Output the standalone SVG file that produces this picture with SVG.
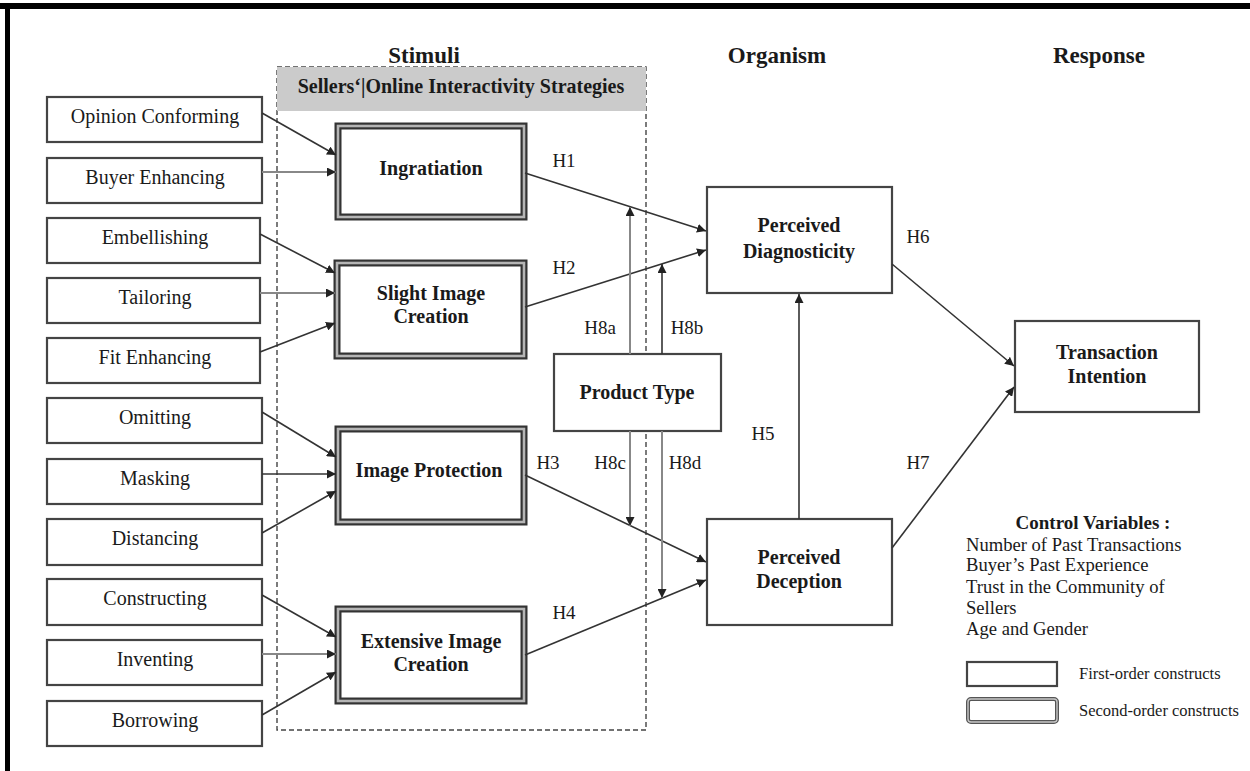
<svg xmlns="http://www.w3.org/2000/svg" width="1250" height="771" viewBox="0 0 1250 771">
<defs>
<marker id="ah" viewBox="0 0 10 10" refX="10" refY="5" markerWidth="9" markerHeight="9" markerUnits="userSpaceOnUse" orient="auto">
<path d="M0,0 L10,5 L0,10 z" fill="#222"/>
</marker>
</defs>
<style>
text{font-family:"Liberation Serif","Times New Roman",serif;fill:#1a1a1a}
.lbl{font-size:20px;text-anchor:middle}
.b{font-weight:bold}
.hd{font-size:23px;font-weight:bold;text-anchor:middle}
.h{font-size:19px;text-anchor:middle}
.cv{font-size:18.6px}
.lg{font-size:16.5px}
.box1{fill:#fff;stroke:#444;stroke-width:2.2}
.box2o{fill:#fff;stroke:#333;stroke-width:7}
.box2i{fill:none;stroke:#b5b5b5;stroke-width:2.6}
.c{fill:none;stroke:#333;stroke-width:1.6;marker-end:url(#ah)}
.cg{fill:none;stroke:#888;stroke-width:2;marker-end:url(#ah)}
</style>
<rect x="0" y="0" width="1250" height="771" fill="#fff"/>
<!-- frame -->
<rect x="0" y="3" width="1250" height="6" fill="#000"/>
<rect x="5" y="3" width="5" height="768" fill="#000"/>

<!-- headings -->
<text class="hd" x="424" y="63">Stimuli</text>
<text class="hd" x="777" y="63">Organism</text>
<text class="hd" x="1099" y="63">Response</text>

<!-- stimuli container -->
<g id="stimuli-group">
<rect x="277" y="67" width="369" height="663" fill="none" stroke="#444" stroke-width="1.4" stroke-dasharray="5,3"/>
<rect x="277" y="67" width="369" height="44" fill="#cbcbcb"/>
<text class="lbl b" x="461" y="93">Sellers‘|Online Interactivity Strategies</text>
</g>

<!-- first-order left boxes -->
<g id="opinion-conforming"><rect class="box1" x="47" y="97" width="215" height="45"/><text class="lbl" x="155" y="123">Opinion Conforming</text></g>
<g id="buyer-enhancing"><rect class="box1" x="47" y="158" width="215" height="45"/><text class="lbl" x="155" y="184">Buyer Enhancing</text></g>
<g id="embellishing"><rect class="box1" x="47" y="218" width="213" height="45"/><text class="lbl" x="155" y="244">Embellishing</text></g>
<g id="tailoring"><rect class="box1" x="47" y="278" width="213" height="45"/><text class="lbl" x="155" y="304">Tailoring</text></g>
<g id="fit-enhancing"><rect class="box1" x="47" y="338" width="213" height="45"/><text class="lbl" x="155" y="364">Fit Enhancing</text></g>
<g id="omitting"><rect class="box1" x="47" y="398" width="215" height="45"/><text class="lbl" x="155" y="424">Omitting</text></g>
<g id="masking"><rect class="box1" x="47" y="459" width="215" height="45"/><text class="lbl" x="155" y="485">Masking</text></g>
<g id="distancing"><rect class="box1" x="47" y="519" width="215" height="46"/><text class="lbl" x="155" y="545">Distancing</text></g>
<g id="constructing"><rect class="box1" x="47" y="579" width="215" height="46"/><text class="lbl" x="155" y="605">Constructing</text></g>
<g id="inventing"><rect class="box1" x="47" y="640" width="215" height="45"/><text class="lbl" x="155" y="666">Inventing</text></g>
<g id="borrowing"><rect class="box1" x="47" y="701" width="215" height="45"/><text class="lbl" x="155" y="727">Borrowing</text></g>

<!-- second-order boxes -->
<g id="ingratiation"><rect class="box2o" x="338" y="126" width="186" height="91"/><rect class="box2i" x="338" y="126" width="186" height="91"/><text class="lbl b" x="431" y="175">Ingratiation</text></g>
<g id="slight-image-creation"><rect class="box2o" x="337" y="263" width="187" height="93"/><rect class="box2i" x="337" y="263" width="187" height="93"/><text class="lbl b" x="431" y="300">Slight Image</text><text class="lbl b" x="431" y="323">Creation</text></g>
<g id="image-protection"><rect class="box2o" x="338" y="429" width="186" height="93"/><rect class="box2i" x="338" y="429" width="186" height="93"/><text class="lbl b" x="429" y="477">Image Protection</text></g>
<g id="extensive-image-creation"><rect class="box2o" x="338" y="609" width="186" height="92"/><rect class="box2i" x="338" y="609" width="186" height="92"/><text class="lbl b" x="431" y="648">Extensive Image</text><text class="lbl b" x="431" y="671">Creation</text></g>

<!-- product type -->
<g id="product-type"><rect class="box1" x="554" y="354" width="167" height="77"/><text class="lbl b" x="637" y="399">Product Type</text></g>

<!-- organism / response -->
<g id="perceived-diagnosticity"><rect class="box1" x="707" y="187" width="185" height="106"/><text class="lbl b" x="799" y="232">Perceived</text><text class="lbl b" x="799" y="258">Diagnosticity</text></g>
<g id="perceived-deception"><rect class="box1" x="707" y="519" width="185" height="106"/><text class="lbl b" x="799" y="564">Perceived</text><text class="lbl b" x="799" y="588">Deception</text></g>
<g id="transaction-intention"><rect class="box1" x="1015" y="321" width="184" height="91"/><text class="lbl b" x="1107" y="359">Transaction</text><text class="lbl b" x="1107" y="383">Intention</text></g>

<!-- connectors -->
<g id="connectors">
<line class="c" x1="262" y1="113" x2="336" y2="155"/>
<line class="cg" x1="262" y1="172" x2="336" y2="172"/>
<line class="c" x1="260" y1="234" x2="335" y2="273"/>
<line class="cg" x1="260" y1="293" x2="335" y2="293"/>
<line class="c" x1="260" y1="352" x2="335" y2="323"/>
<line class="c" x1="262" y1="412" x2="336" y2="457"/>
<line class="c" x1="262" y1="474" x2="336" y2="474"/>
<line class="c" x1="262" y1="533" x2="336" y2="491"/>
<line class="c" x1="262" y1="595" x2="336" y2="637"/>
<line class="cg" x1="262" y1="654" x2="336" y2="654"/>
<line class="c" x1="262" y1="715" x2="336" y2="672"/>

<line class="c" x1="525" y1="173" x2="706" y2="231"/>
<line class="c" x1="525" y1="307" x2="706" y2="250"/>
<line class="c" x1="525" y1="475" x2="706" y2="562"/>
<line class="c" x1="525" y1="655" x2="706" y2="580"/>

<line class="c" x1="799" y1="519" x2="799" y2="294"/>
<line class="c" x1="892" y1="264" x2="1014" y2="366"/>
<line class="c" x1="892" y1="548" x2="1014" y2="387"/>

<line class="cg" x1="630" y1="354" x2="630" y2="207"/>
<line class="c" x1="662" y1="354" x2="662" y2="264"/>
<line class="cg" x1="630" y1="431" x2="630" y2="526"/>
<line class="cg" x1="662" y1="431" x2="662" y2="598"/>
</g>

<!-- hypothesis labels -->
<g id="labels">
<text class="h" x="564" y="167">H1</text>
<text class="h" x="564" y="274">H2</text>
<text class="h" x="548" y="469">H3</text>
<text class="h" x="564" y="619">H4</text>
<text class="h" x="600" y="334">H8a</text>
<text class="h" x="687" y="334">H8b</text>
<text class="h" x="610" y="469">H8c</text>
<text class="h" x="685" y="469">H8d</text>
<text class="h" x="763" y="440">H5</text>
<text class="h" x="918" y="243">H6</text>
<text class="h" x="918" y="469">H7</text>
</g>

<!-- control variables -->
<g id="control-variables">
<text x="1093" y="529" font-size="19" font-weight="bold" text-anchor="middle">Control Variables :</text>
<text class="cv" x="966" y="551">Number of Past Transactions</text>
<text class="cv" x="966" y="571">Buyer’s Past Experience</text>
<text class="cv" x="966" y="593">Trust in the Community of</text>
<text class="cv" x="966" y="614">Sellers</text>
<text class="cv" x="966" y="635">Age and Gender</text>
</g>

<!-- legend -->
<g id="legend">
<rect class="box1" x="967" y="662" width="90" height="24"/>
<text class="lg" x="1079" y="679">First-order constructs</text>
<rect x="968" y="699" width="89" height="23" rx="3" fill="#fff" stroke="#555" stroke-width="4"/>
<rect x="968" y="699" width="89" height="23" rx="3" fill="none" stroke="#c8c8c8" stroke-width="1.4"/>
<text class="lg" x="1079" y="716">Second-order constructs</text>
</g>
</svg>
